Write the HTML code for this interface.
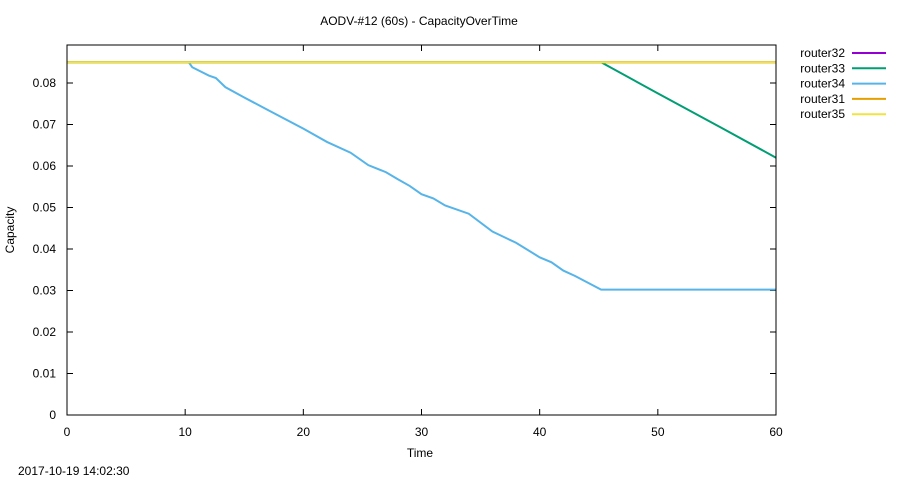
<!DOCTYPE html>
<html><head><meta charset="utf-8"><style>
body{margin:0;background:#fff;}
svg text{font-family:"Liberation Sans",sans-serif;font-size:12px;fill:#000;}
</style></head><body>
<svg width="900" height="480" id="chart">
<rect width="900" height="480" fill="#fff"/>
<text x="419" y="25" text-anchor="middle">AODV-#12 (60s) - CapacityOverTime</text>
<text x="420" y="457" text-anchor="middle">Time</text>
<text transform="translate(14,230) rotate(-90)" text-anchor="middle">Capacity</text>
<text x="18" y="475">2017-10-19 14:02:30</text>
<g id="ticks"></g>
<g id="series"></g>
<rect x="67" y="45" width="709" height="370" fill="none" stroke="#000" stroke-width="1"/>
<g id="legend"></g>
</svg>
<script>
const xTicks=[0,10,20,30,40,50,60];
const yTicks=[0,0.01,0.02,0.03,0.04,0.05,0.06,0.07,0.08];
const seriesNames=["router32","router33","router34","router31","router35"];
const seriesColors=["#9400d3","#009e73","#56b4e9","#e69f00","#f0e442"];
const r32T=[0,60], r32V=[0.085,0.085];
const r33T=[0,45.2,50,55,60], r33V=[0.085,0.085,0.0775,0.0698,0.062];
const r34T=[0,10.3,10.6,12,12.6,13.4,15,17,20,22,24,25.5,27,28,29,30,31,32,34,36,38,40,41,42,43,45.2,60];
const r34V=[0.085,0.085,0.0838,0.0818,0.0812,0.079,0.0765,0.0735,0.069,0.0658,0.0632,0.0602,0.0585,0.0568,0.0552,0.0532,0.0522,0.0505,0.0485,0.0442,0.0415,0.038,0.0368,0.0348,0.0335,0.0302,0.0302];
const r31T=[0,60], r31V=[0.085,0.085];
const r35T=[0,60], r35V=[0.085,0.085];
const X0=67,X1=776,Y0=415,Y1=45;
function sx(t){return X0+(X1-X0)*t/60;}
function sy(v){return Y0-v*4150;}
const NS="http://www.w3.org/2000/svg";
const tg=document.getElementById('ticks');
xTicks.forEach(t=>{
  const x=sx(t);
  const l=document.createElementNS(NS,'path');
  l.setAttribute('d',`M${x},${Y0}v-6M${x},${Y1}v6`);l.setAttribute('stroke','#000');
  
  
  tg.appendChild(l);
  const tx=document.createElementNS(NS,'text');
  tx.setAttribute('x',x);tx.setAttribute('y',436);tx.setAttribute('text-anchor','middle');tx.textContent=t;
  
  
  tg.appendChild(tx);
});
yTicks.forEach(v=>{
  const y=sy(v);
  const l=document.createElementNS(NS,'path');
  l.setAttribute('d',`M${X0},${y}h6M${X1},${y}h-6`);l.setAttribute('stroke','#000');
  
  
  tg.appendChild(l);
  const tx=document.createElementNS(NS,'text');
  tx.setAttribute('x',56);tx.setAttribute('y',y+4);tx.setAttribute('text-anchor','end');tx.textContent=v===0?'0':v.toFixed(2);
  
  
  tg.appendChild(tx);
});
const data=[[r32T,r32V],[r33T,r33V],[r34T,r34V],[r31T,r31V],[r35T,r35V]];
const sg=document.getElementById('series'), lg=document.getElementById('legend');
data.forEach((d,i)=>{
  const p=document.createElementNS(NS,'polyline');
  p.setAttribute('points',d[0].map((t,j)=>sx(t)+','+sy(d[1][j])).join(' '));
  p.setAttribute('fill','none');p.setAttribute('stroke',seriesColors[i]);p.setAttribute('stroke-width','2');
  
  
  sg.appendChild(p);
  const y=53+i*15.3;
  const tx=document.createElementNS(NS,'text');
  tx.setAttribute('x',845);tx.setAttribute('y',y+4);tx.setAttribute('text-anchor','end');tx.textContent=seriesNames[i];
  
  
  lg.appendChild(tx);
  const l=document.createElementNS(NS,'line');
  l.setAttribute('x1',852);l.setAttribute('x2',886);l.setAttribute('y1',y);l.setAttribute('y2',y);
  l.setAttribute('stroke',seriesColors[i]);l.setAttribute('stroke-width','2');
  
  
  lg.appendChild(l);
});
</script>
</body></html>
